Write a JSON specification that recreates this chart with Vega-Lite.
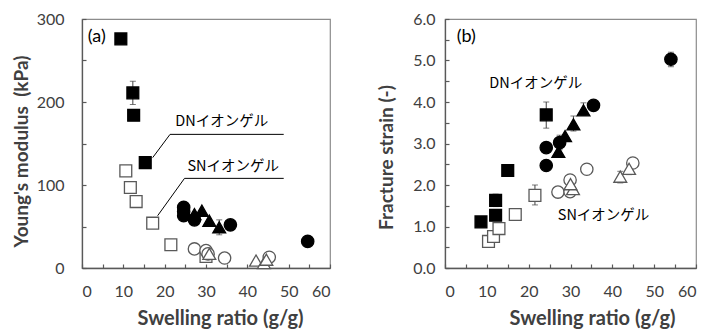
{
  "$schema": "https://vega.github.io/schema/vega-lite/v6.json",
  "padding": {"left": 11, "top": 10, "right": 5, "bottom": 0},
  "spacing": 45,
  "config": {
    "font": "Lato",
    "view": {"stroke": "#8c8c8c", "strokeWidth": 1.2},
    "axis": {
      "grid": false,
      "domainColor": "#595959",
      "domainWidth": 1.3,
      "tickColor": "#595959",
      "tickWidth": 1.2,
      "labelFont": "Lato",
      "labelFontSize": 16,
      "labelColor": "#404040",
      "titleFont": "Lato",
      "titleFontWeight": "bold",
      "titleFontSize": 19,
      "titleColor": "#404040"
    }
  },
  "datasets": {
    "pts": [
      {"panel": "a", "net": "DN", "sample": "S1", "x": 9.4, "y": 276},
      {"panel": "a", "net": "DN", "sample": "S1", "x": 12.3, "y": 211, "lo": 197, "hi": 225},
      {"panel": "a", "net": "DN", "sample": "S1", "x": 12.5, "y": 184},
      {"panel": "a", "net": "DN", "sample": "S1", "x": 15.3, "y": 127, "lo": 121, "hi": 131},
      {"panel": "a", "net": "DN", "sample": "S2", "x": 24.6, "y": 73},
      {"panel": "a", "net": "DN", "sample": "S2", "x": 24.6, "y": 68},
      {"panel": "a", "net": "DN", "sample": "S2", "x": 24.6, "y": 63},
      {"panel": "a", "net": "DN", "sample": "S2", "x": 27.2, "y": 58},
      {"panel": "a", "net": "DN", "sample": "S2", "x": 35.9, "y": 52},
      {"panel": "a", "net": "DN", "sample": "S2", "x": 54.6, "y": 32},
      {"panel": "a", "net": "DN", "sample": "S3", "x": 27.2, "y": 65},
      {"panel": "a", "net": "DN", "sample": "S3", "x": 29.0, "y": 69},
      {"panel": "a", "net": "DN", "sample": "S3", "x": 30.8, "y": 57},
      {"panel": "a", "net": "DN", "sample": "S3", "x": 33.2, "y": 49, "lo": 40, "hi": 58},
      {"panel": "a", "net": "SN", "sample": "S1", "x": 10.6, "y": 117, "lo": 113, "hi": 121},
      {"panel": "a", "net": "SN", "sample": "S1", "x": 11.7, "y": 97, "lo": 95, "hi": 99},
      {"panel": "a", "net": "SN", "sample": "S1", "x": 13.1, "y": 80, "lo": 76, "hi": 84},
      {"panel": "a", "net": "SN", "sample": "S1", "x": 17.1, "y": 54, "lo": 52, "hi": 56},
      {"panel": "a", "net": "SN", "sample": "S1", "x": 21.5, "y": 28, "lo": 26, "hi": 30},
      {"panel": "a", "net": "SN", "sample": "S1", "x": 30.0, "y": 14},
      {"panel": "a", "net": "SN", "sample": "S2", "x": 27.2, "y": 23, "lo": 21, "hi": 25},
      {"panel": "a", "net": "SN", "sample": "S2", "x": 30.0, "y": 21},
      {"panel": "a", "net": "SN", "sample": "S2", "x": 30.5, "y": 17},
      {"panel": "a", "net": "SN", "sample": "S2", "x": 34.5, "y": 12, "lo": 11, "hi": 13},
      {"panel": "a", "net": "SN", "sample": "S2", "x": 45.3, "y": 13, "lo": 11, "hi": 15},
      {"panel": "a", "net": "SN", "sample": "S3", "x": 30.8, "y": 17},
      {"panel": "a", "net": "SN", "sample": "S3", "x": 42.1, "y": 9},
      {"panel": "a", "net": "SN", "sample": "S3", "x": 44.0, "y": 6},
      {"panel": "a", "net": "SN", "sample": "S3", "x": 44.6, "y": 10},
      {"panel": "b", "net": "DN", "sample": "S1", "x": 8.6, "y": 1.11},
      {"panel": "b", "net": "DN", "sample": "S1", "x": 12.1, "y": 1.27},
      {"panel": "b", "net": "DN", "sample": "S1", "x": 12.1, "y": 1.63, "lo": 1.48, "hi": 1.78},
      {"panel": "b", "net": "DN", "sample": "S1", "x": 15.0, "y": 2.35, "lo": 2.3, "hi": 2.42},
      {"panel": "b", "net": "DN", "sample": "S1", "x": 24.2, "y": 3.69, "lo": 3.37, "hi": 4.0},
      {"panel": "b", "net": "DN", "sample": "S2", "x": 24.2, "y": 2.9},
      {"panel": "b", "net": "DN", "sample": "S2", "x": 24.2, "y": 2.47},
      {"panel": "b", "net": "DN", "sample": "S2", "x": 27.4, "y": 3.02, "lo": 2.85, "hi": 3.2},
      {"panel": "b", "net": "DN", "sample": "S2", "x": 35.5, "y": 3.92},
      {"panel": "b", "net": "DN", "sample": "S2", "x": 54.0, "y": 5.03, "lo": 4.85, "hi": 5.2},
      {"panel": "b", "net": "DN", "sample": "S3", "x": 27.1, "y": 2.8},
      {"panel": "b", "net": "DN", "sample": "S3", "x": 28.7, "y": 3.18},
      {"panel": "b", "net": "DN", "sample": "S3", "x": 30.7, "y": 3.46, "lo": 3.3, "hi": 3.66},
      {"panel": "b", "net": "DN", "sample": "S3", "x": 33.1, "y": 3.8, "lo": 3.68, "hi": 3.98},
      {"panel": "b", "net": "SN", "sample": "S1", "x": 10.4, "y": 0.64},
      {"panel": "b", "net": "SN", "sample": "S1", "x": 11.6, "y": 0.76, "lo": 0.66, "hi": 0.85},
      {"panel": "b", "net": "SN", "sample": "S1", "x": 12.9, "y": 0.95, "lo": 0.9, "hi": 1.0},
      {"panel": "b", "net": "SN", "sample": "S1", "x": 16.8, "y": 1.29, "lo": 1.2, "hi": 1.38},
      {"panel": "b", "net": "SN", "sample": "S1", "x": 21.5, "y": 1.75, "lo": 1.52, "hi": 2.0},
      {"panel": "b", "net": "SN", "sample": "S2", "x": 27.0, "y": 1.83, "lo": 1.73, "hi": 1.93},
      {"panel": "b", "net": "SN", "sample": "S2", "x": 29.9, "y": 1.84, "lo": 1.76, "hi": 1.92},
      {"panel": "b", "net": "SN", "sample": "S2", "x": 29.9, "y": 2.12},
      {"panel": "b", "net": "SN", "sample": "S2", "x": 33.9, "y": 2.38, "lo": 2.28, "hi": 2.48},
      {"panel": "b", "net": "SN", "sample": "S2", "x": 44.9, "y": 2.53, "lo": 2.48, "hi": 2.58},
      {"panel": "b", "net": "SN", "sample": "S3", "x": 30.6, "y": 1.9},
      {"panel": "b", "net": "SN", "sample": "S3", "x": 30.0, "y": 2.02},
      {"panel": "b", "net": "SN", "sample": "S3", "x": 41.9, "y": 2.2, "lo": 2.05, "hi": 2.33},
      {"panel": "b", "net": "SN", "sample": "S3", "x": 44.0, "y": 2.39, "lo": 2.25, "hi": 2.5}
    ],
    "leaders": [
      {"panel": "a", "net": "DN", "order": 1, "x": 17.1, "y": 133},
      {"panel": "a", "net": "DN", "order": 2, "x": 21.3, "y": 161},
      {"panel": "a", "net": "DN", "order": 3, "x": 48.8, "y": 161},
      {"panel": "a", "net": "SN", "order": 1, "x": 18.3, "y": 63},
      {"panel": "a", "net": "SN", "order": 2, "x": 24.8, "y": 108},
      {"panel": "a", "net": "SN", "order": 3, "x": 48.8, "y": 108}
    ],
    "labels": [
      {"panel": "a", "kind": "tag", "text": "(a)", "x": 1.4, "y": 267},
      {"panel": "a", "kind": "note", "text": "DNイオンゲル", "x": 33.8, "y": 167},
      {"panel": "a", "kind": "note", "text": "SNイオンゲル", "x": 36.6, "y": 113},
      {"panel": "b", "kind": "tag", "text": "(b)", "x": 2.8, "y": 5.36},
      {"panel": "b", "kind": "note", "text": "DNイオンゲル", "x": 21.7, "y": 4.27},
      {"panel": "b", "kind": "note", "text": "SNイオンゲル", "x": 37.9, "y": 1.09}
    ]
  },
  "hconcat": [
    {
      "width": 248,
      "height": 249,
      "resolve": {"axis": {"x": "independent", "y": "independent"}},
      "layer": [
        {
          "data": {"name": "pts"},
          "transform": [{"filter": "datum.panel === 'a' && isValid(datum.lo)"}],
          "mark": {"type": "rule", "color": "#404040", "strokeWidth": 1},
          "encoding": {
            "x": {"field": "x", "type": "quantitative", "scale": {"domain": [0, 60], "nice": false},
              "axis": {"orient": "bottom", "values": [0,5,10,15,20,25,30,35,40,45,50,55,60], "domain": false, "labels": false, "title": null, "ticks": true, "tickSize": 4, "offset": -4}},
            "y": {"field": "lo", "type": "quantitative", "scale": {"domain": [0, 300], "nice": false},
              "axis": {"orient": "left", "values": [0,50,100,150,200,250,300], "domain": false, "labels": false, "title": null, "ticks": true, "tickSize": 4, "offset": -4}},
            "y2": {"field": "hi"}
          }
        },
        {
          "data": {"name": "pts"},
          "transform": [{"filter": "datum.panel === 'a' && isValid(datum.lo)"}, {"fold": ["lo", "hi"], "as": ["end", "val"]}],
          "mark": {"type": "tick", "orient": "horizontal", "size": 6, "thickness": 1, "color": "#404040"},
          "encoding": {
            "x": {"field": "x", "type": "quantitative", "axis": null},
            "y": {"field": "val", "type": "quantitative", "axis": null}
          }
        },
        {
          "data": {"name": "pts"},
          "transform": [{"filter": "datum.panel === 'a'"}],
          "mark": {"type": "point", "opacity": 1, "strokeWidth": 1.3},
          "encoding": {
            "x": {"field": "x", "type": "quantitative", "scale": {"domain": [0, 60], "nice": false},
              "axis": {"orient": "bottom", "values": [0,10,20,30,40,50,60], "ticks": false, "labelPadding": 15, "title": "Swelling ratio (g/g)", "titleFontSize": 20, "titlePadding": 9, "titleX": 138}},
            "y": {"field": "y", "type": "quantitative", "scale": {"domain": [0, 300], "nice": false},
              "axis": {"orient": "left", "values": [0,100,200,300], "ticks": false, "labelPadding": 18, "title": "Young's modulus\u00a0\u00a0(kPa)", "titlePadding": 5, "titleY": 132}},
            "shape": {"field": "sample", "type": "nominal", "scale": {"domain": ["S1", "S2", "S3"], "range": ["square", "circle", "triangle-up"]}, "legend": null},
            "fill": {"field": "net", "type": "nominal", "scale": {"domain": ["DN", "SN"], "range": ["#000000", "#ffffff"]}, "legend": null},
            "stroke": {"field": "net", "type": "nominal", "scale": {"domain": ["DN", "SN"], "range": ["#000000", "#595959"]}, "legend": null},
            "size": {"field": "sample", "type": "nominal", "scale": {"domain": ["S1", "S2", "S3"], "range": [140, 165, 155]}, "legend": null}
          }
        },
        {
          "data": {"name": "leaders"},
          "transform": [{"filter": "datum.panel === 'a'"}],
          "mark": {"type": "line", "color": "#000000", "strokeWidth": 1},
          "encoding": {
            "x": {"field": "x", "type": "quantitative", "axis": null},
            "y": {"field": "y", "type": "quantitative", "axis": null},
            "detail": {"field": "net"},
            "order": {"field": "order"}
          }
        },
        {
          "data": {"name": "labels"},
          "transform": [{"filter": "datum.panel === 'a' && datum.kind === 'note'"}],
          "mark": {"type": "text", "font": "Noto Sans CJK JP", "fontSize": 14.5, "align": "center", "baseline": "bottom", "color": "#000000"},
          "encoding": {
            "x": {"field": "x", "type": "quantitative", "axis": null},
            "y": {"field": "y", "type": "quantitative", "axis": null},
            "text": {"field": "text"}
          }
        },
        {
          "data": {"name": "labels"},
          "transform": [{"filter": "datum.panel === 'a' && datum.kind === 'tag'"}],
          "mark": {"type": "text", "font": "Lato", "fontSize": 18, "align": "left", "baseline": "bottom", "color": "#000000"},
          "encoding": {
            "x": {"field": "x", "type": "quantitative", "axis": null},
            "y": {"field": "y", "type": "quantitative", "axis": null},
            "text": {"field": "text"}
          }
        }
      ]
    },
    {
      "width": 251,
      "height": 249,
      "resolve": {"axis": {"x": "independent", "y": "independent"}},
      "layer": [
        {
          "data": {"name": "pts"},
          "transform": [{"filter": "datum.panel === 'b' && isValid(datum.lo)"}],
          "mark": {"type": "rule", "color": "#404040", "strokeWidth": 1},
          "encoding": {
            "x": {"field": "x", "type": "quantitative", "scale": {"domain": [0, 60], "nice": false},
              "axis": {"orient": "bottom", "values": [0,5,10,15,20,25,30,35,40,45,50,55,60], "domain": false, "labels": false, "title": null, "ticks": true, "tickSize": 4, "offset": -4}},
            "y": {"field": "lo", "type": "quantitative", "scale": {"domain": [0, 6], "nice": false},
              "axis": {"orient": "left", "values": [0,0.5,1,1.5,2,2.5,3,3.5,4,4.5,5,5.5,6], "domain": false, "labels": false, "title": null, "ticks": true, "tickSize": 4, "offset": -4}},
            "y2": {"field": "hi"}
          }
        },
        {
          "data": {"name": "pts"},
          "transform": [{"filter": "datum.panel === 'b' && isValid(datum.lo)"}, {"fold": ["lo", "hi"], "as": ["end", "val"]}],
          "mark": {"type": "tick", "orient": "horizontal", "size": 6, "thickness": 1, "color": "#404040"},
          "encoding": {
            "x": {"field": "x", "type": "quantitative", "axis": null},
            "y": {"field": "val", "type": "quantitative", "axis": null}
          }
        },
        {
          "data": {"name": "pts"},
          "transform": [{"filter": "datum.panel === 'b'"}],
          "mark": {"type": "point", "opacity": 1, "strokeWidth": 1.3},
          "encoding": {
            "x": {"field": "x", "type": "quantitative", "scale": {"domain": [0, 60], "nice": false},
              "axis": {"orient": "bottom", "values": [0,10,20,30,40,50,60], "ticks": false, "labelPadding": 15, "title": "Swelling ratio (g/g)", "titleFontSize": 20, "titlePadding": 9, "titleX": 147}},
            "y": {"field": "y", "type": "quantitative", "scale": {"domain": [0, 6], "nice": false},
              "axis": {"orient": "left", "values": [0,1,2,3,4,5,6], "format": ".1f", "ticks": false, "labelPadding": 10, "title": "Fracture strain (-)", "titlePadding": 16, "titleY": 138}},
            "shape": {"field": "sample", "type": "nominal", "scale": {"domain": ["S1", "S2", "S3"], "range": ["square", "circle", "triangle-up"]}, "legend": null},
            "fill": {"field": "net", "type": "nominal", "scale": {"domain": ["DN", "SN"], "range": ["#000000", "#ffffff"]}, "legend": null},
            "stroke": {"field": "net", "type": "nominal", "scale": {"domain": ["DN", "SN"], "range": ["#000000", "#595959"]}, "legend": null},
            "size": {"field": "sample", "type": "nominal", "scale": {"domain": ["S1", "S2", "S3"], "range": [140, 165, 155]}, "legend": null}
          }
        },
        {
          "data": {"name": "labels"},
          "transform": [{"filter": "datum.panel === 'b' && datum.kind === 'note'"}],
          "mark": {"type": "text", "font": "Noto Sans CJK JP", "fontSize": 14.5, "align": "center", "baseline": "bottom", "color": "#000000"},
          "encoding": {
            "x": {"field": "x", "type": "quantitative", "axis": null},
            "y": {"field": "y", "type": "quantitative", "axis": null},
            "text": {"field": "text"}
          }
        },
        {
          "data": {"name": "labels"},
          "transform": [{"filter": "datum.panel === 'b' && datum.kind === 'tag'"}],
          "mark": {"type": "text", "font": "Lato", "fontSize": 18, "align": "left", "baseline": "bottom", "color": "#000000"},
          "encoding": {
            "x": {"field": "x", "type": "quantitative", "axis": null},
            "y": {"field": "y", "type": "quantitative", "axis": null},
            "text": {"field": "text"}
          }
        }
      ]
    }
  ]
}
